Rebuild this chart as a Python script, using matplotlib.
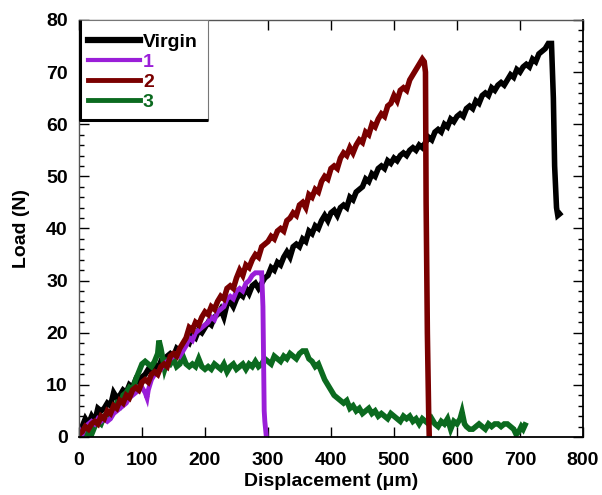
import matplotlib.pyplot as plt
from matplotlib.patches import Rectangle
from matplotlib.lines import Line2D
from matplotlib.ticker import MultipleLocator

plt.rcParams['font.family'] = ['Liberation Sans', 'DejaVu Sans']
plt.rcParams['font.weight'] = 'bold'

# Virgin
virgin_x = [0, 5, 10, 15, 20, 25, 30, 35, 40, 45, 50, 55, 60, 65, 70, 75, 80, 85, 90, 95,
            100, 105, 110, 115, 120, 125, 130, 135, 140, 145, 150, 155, 160, 165, 170, 175, 180, 185, 190, 195,
            200, 205, 210, 215, 220, 225, 230, 235, 240, 245, 250, 255, 260, 265, 270, 275, 280, 285, 290, 295,
            300, 305, 310, 315, 320, 325, 330, 335, 340, 345, 350, 355, 360, 365, 370, 375, 380, 385, 390, 395,
            400, 405, 410, 415, 420, 425, 430, 435, 440, 445, 450, 455, 460, 465, 470, 475, 480, 485, 490, 495,
            500, 505, 510, 515, 520, 525, 530, 535, 540, 545, 550, 555, 560, 565, 570, 575, 580, 585, 590, 595,
            600, 605, 610, 615, 620, 625, 630, 635, 640, 645, 650, 655, 660, 665, 670, 675, 680, 685, 690, 695,
            700, 705, 710, 715, 720, 725, 730, 735, 740, 745, 750, 753, 755, 758, 760, 763]
virgin_y = [0.5, 2, 3.5, 2.5, 4, 3, 5.5, 5, 5.5, 6.5, 6, 8.5, 7.5, 8, 9, 8.5, 10, 9.5, 11, 10.5,
            11.5, 12, 13, 12.5, 14, 13, 14.5, 14, 15.5, 16, 15.5, 17, 16.5, 17.5, 18.5, 18, 19.5, 19, 20.5, 20,
            21, 22, 21.5, 23, 23.5, 24.5, 23, 25.5, 26, 25, 26.5, 27.5, 27, 28.5, 27.5, 29, 29.5, 28.5, 29.5, 30.5,
            31, 32.5, 32, 33.5, 33, 34.5, 35.5, 34.5, 36.5, 37, 36.5, 38, 37.5, 39.5, 39, 40.5, 40, 41.5, 42.5, 41.5,
            43, 43.5, 42.5, 44, 44.5, 44, 46, 45.5, 47, 47.5, 48, 49.5, 49, 50.5, 50, 51.5, 52, 51.5, 53, 52.5,
            53.5, 53, 54, 54.5, 54, 55, 55.5, 55, 56, 55.5, 56.5, 57.5, 57, 58.5, 59, 58.5, 60, 59.5, 61, 60.5,
            61.5, 62, 61.5, 63, 63.5, 63, 64.5, 64, 65.5, 66, 65.5, 67, 66.5, 67.5, 68, 67.5, 68.5, 69.5, 69, 70.5,
            70, 71, 71.5, 71, 72.5, 72, 73.5, 74, 74.5, 75.5, 75.5, 65, 52, 44, 42.5, 42.8]

# Sample 1
s1_x = [0, 5, 10, 15, 20, 25, 30, 35, 40, 45, 50, 55, 60, 65, 70, 75, 80, 85, 90, 95,
        100, 105, 108, 110, 115, 120, 125, 130, 135, 140, 145, 150, 155, 160, 165, 170, 175, 180, 185, 190, 195,
        200, 205, 210, 215, 220, 225, 230, 235, 240, 245, 250, 255, 260, 265, 270, 275, 280, 285, 290,
        292, 293, 294, 295, 297]
s1_y = [1.5, 0.5, 2, 2.5, 3, 2.5, 3.5, 3, 3.5, 3, 3.5, 4.5, 5, 5.5, 6, 6.5, 7.5, 8, 8.5, 9,
        9.5, 8.5, 7.5, 9, 11, 12, 12.5, 13, 14, 14.5, 15, 15.5, 16, 15.5, 16.5, 17.5, 19, 18.5, 20, 20.5, 21,
        21.5, 22, 23, 22.5, 24, 24.5, 25, 26.5, 27, 26.5, 28, 28.5, 28, 29.5, 30, 31, 31.5, 31.5, 31.5,
        25, 15, 5, 3, 0.5]

# Sample 2
s2_x = [0, 5, 10, 15, 20, 25, 30, 35, 40, 45, 50, 55, 60, 65, 70, 75, 80, 85, 90, 95,
        100, 105, 110, 115, 120, 125, 130, 135, 140, 145, 150, 155, 160, 165, 170, 175, 180, 185, 190, 195,
        200, 205, 210, 215, 220, 225, 230, 235, 240, 245, 250, 255, 260, 265, 270, 275, 280, 285, 290, 295,
        300, 305, 310, 315, 320, 325, 330, 335, 340, 345, 350, 355, 360, 365, 370, 375, 380, 385, 390, 395,
        400, 405, 410, 415, 420, 425, 430, 435, 440, 445, 450, 455, 460, 465, 470, 475, 480, 485, 490, 495,
        500, 505, 510, 515, 520, 525, 530, 535, 540, 545, 548, 550, 551, 553, 555, 556]
s2_y = [0.5, 1, 2, 1.5, 2.5, 3, 2.5, 4, 3.5, 5, 4.5, 6, 5.5, 7, 6.5, 8, 7.5, 9, 9.5, 9,
        10.5, 11, 10.5, 12, 12.5, 12, 13.5, 14, 13.5, 15.5, 16, 15.5, 17, 18, 19, 21, 20.5, 22, 21.5, 23,
        24, 23.5, 25, 24.5, 26, 27, 26.5, 28.5, 29, 28.5, 30.5, 32, 31, 33, 32.5, 34, 35, 34.5, 36.5, 37,
        37.5, 38.5, 38, 39.5, 40, 39.5, 41.5, 42, 43, 42.5, 44.5, 45, 44, 46.5, 46, 47.5, 47, 49, 50, 49.5,
        51.5, 52, 51.5, 53.5, 54.5, 54, 55.5, 54.5, 56, 57, 56.5, 58.5, 58, 60, 59.5, 61, 62, 61.5, 63.5, 64,
        65.5, 64.5, 66.5, 67, 66.5, 68.5, 69.5, 70.5, 71.5, 72.5, 72, 70, 45, 20, 5, 0]

# Sample 3
s3_x = [0, 5, 10, 15, 20, 25, 30, 35, 40, 45, 50, 55, 60, 65, 70, 75, 80, 85, 90, 95,
        100, 105, 110, 115, 120, 125, 127, 130, 133, 136, 140, 145, 150, 155, 160, 165, 170, 175, 180, 185, 190, 195,
        200, 205, 210, 215, 220, 225, 230, 235, 240, 245, 250, 255, 260, 265, 270, 275, 280, 285, 290, 295,
        300, 305, 310, 315, 320, 325, 330, 335, 340, 345, 350, 355, 360, 365, 370, 375, 380, 385, 390, 395,
        400, 405, 410, 415, 420, 425, 430, 435, 440, 445, 450, 455, 460, 465, 470, 475, 480, 485, 490, 495,
        500, 505, 510, 515, 520, 525, 530, 535, 540, 545, 550, 555, 560, 565, 570, 575, 580, 585, 590, 595,
        600, 605, 608, 612, 615, 620, 625, 630, 635, 640, 645, 650, 655, 660, 665, 670, 675, 680, 685, 690,
        694, 698, 702, 705, 708]
s3_y = [0.5, 0.3, 0.8, 0.5, 0.5, 2, 3, 2.5, 4, 4.5, 4, 5.5, 6.5, 6, 8, 8.5, 9.5, 9, 11, 12.5,
        14, 14.5, 14, 13.5, 14.5, 16, 18.5, 17, 15, 13, 14.5, 14, 15, 13.5, 14, 15.5, 14, 13.5, 14, 13.5, 15, 13.5,
        13, 13.5, 13, 14, 13.5, 13, 14, 12.5, 13.5, 14, 13, 13.5, 14, 13, 14, 13.5, 14.5, 13.5, 14, 15,
        14.5, 14, 15.5, 15, 14.5, 15.5, 15, 16, 15.5, 15, 16, 16.5, 16.5, 15, 14.5, 13.5, 14, 12.5, 11, 10,
        9, 8, 7.5, 7, 6.5, 7, 5.5, 6, 5, 5.5, 4.5, 5, 5.5, 4.5, 5, 4, 4.5, 4, 3.5, 4.5,
        4, 3.5, 3, 4, 3.5, 4, 3, 3.5, 2.5, 3.5, 3, 2.5, 3.5, 2.5, 2, 3, 2.5, 3.5, 1.5, 3,
        2.5, 3.5, 4.8, 2.5, 2, 1.5, 1.5, 2, 2.5, 2, 1.5, 2.5, 2, 2.5, 2.5, 2, 2.5, 2.5, 2, 1.5,
        0.5, 1, 2, 1.5, 2.3]

labels = ['Virgin', '1', '2', '3']
colors = ['black', '#9a1ed8', '#7a0000', '#0b6a1f']

fig = plt.figure(figsize=(6.02, 4.95), dpi=100)
ax = fig.add_axes([0.1312, 0.1172, 0.8372, 0.8424])

ax.plot(virgin_x, virgin_y, color=colors[0], lw=4, solid_joinstyle='miter')
ax.plot(s3_x, s3_y, color=colors[3], lw=4, solid_joinstyle='miter')
ax.plot(s1_x, s1_y, color=colors[1], lw=3.5, solid_joinstyle='miter')
ax.plot(s2_x, s2_y, color=colors[2], lw=4, solid_joinstyle='miter')

ax.set_xlim(0, 800)
ax.set_ylim(0, 80)
ax.xaxis.set_major_locator(MultipleLocator(100))
ax.yaxis.set_major_locator(MultipleLocator(10))
ax.yaxis.set_minor_locator(MultipleLocator(2))
ax.tick_params(which='both', direction='in', top=True, right=True, labelsize=14, width=1)
ax.tick_params(which='major', length=7)
ax.tick_params(which='minor', length=3.5)
ax.tick_params(axis='x', which='major', pad=11)
ax.tick_params(axis='y', which='major', pad=8)
for lab in ax.get_xticklabels() + ax.get_yticklabels():
    lab.set_fontweight('bold')
for s in ['top', 'left']:
    ax.spines[s].set_color('#555555')
    ax.spines[s].set_linewidth(1)
for s in ['bottom', 'right']:
    ax.spines[s].set_linewidth(1.3)

ax.set_xlabel('Displacement (μm)', fontsize=14, fontweight='bold', labelpad=3)
ax.set_ylabel('Load (N)', fontsize=14, fontweight='bold', labelpad=12)

# legend box
ax.add_patch(Rectangle((0, 0.76), 0.256, 0.24, transform=ax.transAxes, facecolor='white',
                       edgecolor='#777777', lw=0.8, zorder=5))
ax.plot([0.002, 0.002, 0.256], [1.0, 0.76, 0.76], transform=ax.transAxes, color='black',
        lw=2.2, clip_on=False, zorder=6, solid_capstyle='butt')
handles = [Line2D([], [], color=colors[0], lw=4.5),
           Line2D([], [], color=colors[1], lw=3),
           Line2D([], [], color=colors[2], lw=3.5),
           Line2D([], [], color=colors[3], lw=3.5)]
leg = ax.legend(handles, labels, loc='upper left', bbox_to_anchor=(0.017, 0.968), frameon=False,
                handlelength=2.7, handletextpad=0.15, labelspacing=0.12, borderaxespad=0,
                borderpad=0, prop={'size': 14, 'weight': 'bold'})
leg.set_zorder(7)
for t, c in zip(leg.get_texts(), colors):
    t.set_color(c)

fig.savefig('out.png', dpi=100)
